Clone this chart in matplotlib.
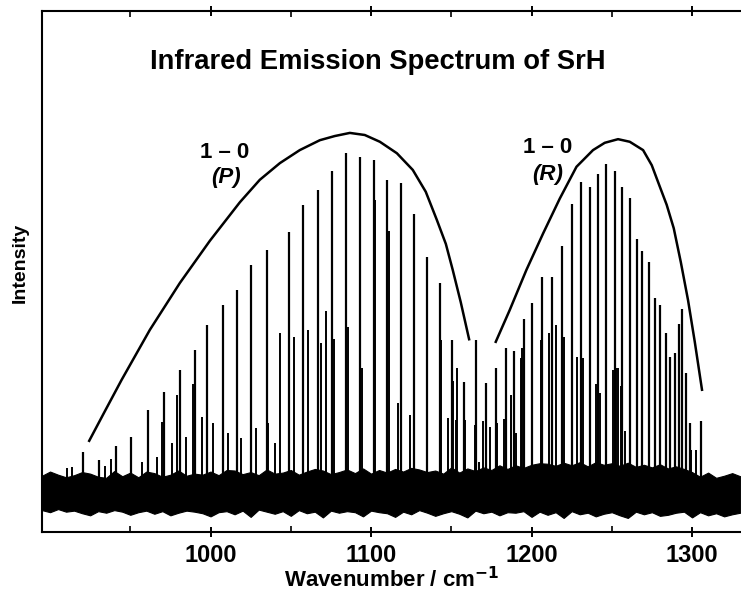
import numpy
from matplotlib import pyplot

pyplot.rcParams["font.family"] = ["Liberation Sans", "DejaVu Sans"]
pyplot.rcParams["font.weight"] = "bold"
pyplot.rcParams["mathtext.default"] = "bf"

# Strong rotational lines (wavenumber / cm-1, intensity a.u.)
strong_wn = [920.3, 930.6, 941.0, 950.2, 960.8, 971.3, 980.9, 990.2, 998.1, 1007.5,
             1016.6, 1025.1, 1034.9, 1048.8, 1057.9, 1066.8, 1075.7, 1084.7, 1093.2,
             1101.9, 1110.0, 1118.7, 1126.8, 1134.7, 1142.8, 1150.3, 1158.0, 1165.7,
             1171.9, 1177.7, 1183.8, 1189.1, 1195.2, 1200.3, 1206.8, 1212.8, 1218.8,
             1224.9, 1230.9, 1236.3, 1241.4, 1246.7, 1251.7, 1256.6, 1261.2, 1265.4,
             1269.1, 1273.2, 1277.2, 1280.3, 1283.6, 1286.5, 1289.2, 1291.9, 1294.0,
             1296.5, 1298.6, 1305.4]
strong_int = [15.4, 13.8, 16.5, 18.2, 23.4, 26.9, 31.1, 34.9, 39.7, 43.6,
              46.4, 51.2, 54.1, 57.6, 62.8, 65.6, 69.2, 72.8, 72.0,
              71.4, 67.6, 67.0, 61.0, 52.8, 47.7, 36.9, 28.8, 36.9,
              28.6, 31.5, 35.4, 34.8, 40.8, 43.9, 49.0, 49.0, 54.9,
              63.0, 67.2, 66.2, 68.7, 70.6, 69.2, 66.3, 64.2, 56.2,
              54.0, 51.9, 45.0, 43.6, 38.2, 33.6, 34.4, 39.9, 42.8,
              30.5, 20.9, 21.3]

# Weaker lines (hot band / overlapping transitions)
weak_wn = [910.3, 913.4, 934.2, 938.3, 957.0, 966.4, 969.5, 975.7, 978.8, 984.6,
           988.8, 994.4, 1001.6, 1010.6, 1018.9, 1028.2, 1035.9, 1040.1, 1043.2,
           1052.1, 1060.8, 1069.1, 1071.8, 1077.0, 1085.7, 1094.2, 1102.5, 1111.1,
           1118.5, 1116.9, 1124.1, 1143.4, 1151.1, 1153.6, 1148.0, 1152.8, 1158.8,
           1164.6, 1167.3, 1169.8, 1174.4, 1178.5, 1182.9, 1187.1, 1190.2, 1193.3,
           1194.1, 1205.6, 1210.6, 1215.5, 1220.1, 1228.4, 1232.1, 1240.4, 1242.9,
           1246.2, 1250.8, 1252.9, 1253.9, 1255.6, 1258.1, 1261.6, 1299.5, 1302.5]
weak_int = [12.3, 12.4, 12.7, 14.0, 13.5, 14.3, 21.2, 17.1, 26.3, 18.3,
            28.4, 22.1, 20.9, 19.0, 18.0, 20.0, 20.9, 17.1, 38.2,
            37.5, 38.8, 36.3, 42.5, 37.1, 39.4, 31.5, 63.7, 57.8,
            40.7, 24.8, 22.5, 36.9, 29.0, 31.4, 21.9, 21.5, 21.5,
            20.5, 13.5, 21.4, 20.2, 20.9, 21.6, 26.3, 19.0, 33.4,
            35.3, 36.9, 38.2, 39.7, 37.5, 33.6, 33.4, 28.5, 26.6,
            25.5, 31.1, 31.5, 31.4, 28.0, 19.3, 14.5, 15.7, 15.7]

# Noise band edges, every 5 cm-1 from 895
noise_hi = [10.8, 11.6, 11.0, 10.5, 10.9, 11.5, 11.2, 10.6, 10.4, 11.7,
            10.7, 11.4, 10.5, 11.6, 11.3, 10.6, 11.0, 11.8, 10.8, 11.2,
            11.0, 11.6, 10.9, 11.9, 11.8, 11.1, 11.5, 10.9, 12.0, 11.2,
            11.4, 11.9, 11.0, 11.6, 12.1, 11.8, 11.1, 11.5, 12.0, 11.3,
            12.2, 11.2, 11.9, 11.4, 12.1, 11.6, 12.3, 12.0, 11.5, 11.8,
            11.2, 12.4, 11.4, 12.2, 11.7, 12.4, 11.9, 12.8, 12.1, 12.8,
            12.3, 12.9, 13.2, 13.1, 12.7, 13.3, 12.8, 13.4, 12.6, 13.4,
            12.9, 13.2, 12.7, 13.3, 12.5, 12.9, 12.4, 13.0, 12.2, 12.6,
            12.1, 11.5, 10.6, 11.4, 10.4, 10.8, 11.3, 10.7]
noise_lo = [4.2, 3.8, 4.4, 3.9, 4.1, 3.6, 3.2, 4.0, 3.7, 4.2,
            3.9, 3.3, 3.8, 4.1, 3.5, 4.0, 3.2, 3.7, 4.1, 3.9,
            3.6, 3.0, 3.8, 4.0, 3.4, 4.1, 2.9, 4.3, 3.9, 3.5,
            4.0, 3.1, 4.2, 3.6, 3.9, 2.8, 4.1, 3.7, 4.0, 3.8,
            3.0, 4.1, 3.8, 3.6, 2.9, 3.9, 3.4, 4.2, 3.7, 3.1,
            3.6, 4.0, 3.5, 2.8, 4.1, 3.6, 3.9, 3.2, 3.8, 3.7,
            4.0, 2.9, 3.9, 3.3, 3.8, 2.7, 4.0, 3.4, 3.7, 3.0,
            3.5, 3.8, 3.2, 2.7, 3.9, 3.4, 3.8, 3.1, 3.3, 3.7,
            3.9, 2.8, 3.8, 3.2, 3.6, 3.0, 3.4, 3.7]
noise_wn = numpy.arange(895, 895 + 5 * len(noise_hi), 5)

# Envelopes drawn over the two branches
p_env_wn = [924.4, 934.2, 944.6, 962.2, 980.9, 999.6, 1018.3, 1030.7, 1043.2,
            1055.6, 1068.1, 1077.4, 1086.8, 1096.1, 1105.5, 1116.1, 1126.0,
            1134.1, 1141.0, 1146.6, 1150.9, 1155.9, 1161.1]
p_env_int = [17.5, 23.2, 29.2, 38.8, 47.8, 55.9, 63.3, 67.6, 70.8,
             73.3, 75.2, 76.0, 76.6, 76.2, 74.9, 72.7, 69.5,
             65.3, 59.9, 55.3, 50.3, 44.1, 37.0]
r_env_wn = [1177.7, 1186.4, 1196.8, 1207.2, 1217.6, 1228.0, 1238.3, 1245.6,
            1253.9, 1261.2, 1269.5, 1274.9, 1279.9, 1284.2, 1288.6, 1293.0,
            1297.5, 1301.7, 1306.2]
r_env_int = [36.5, 42.6, 50.3, 57.3, 64.0, 70.1, 73.3, 74.7,
             75.4, 74.9, 73.3, 70.4, 66.3, 62.8, 58.3, 51.8,
             44.5, 36.5, 27.3]

baseline = 7.5

f = pyplot.figure(figsize=(7.41, 5.92), dpi=100)
ax = f.add_axes([42 / 741, 60 / 592, 699 / 741, 521 / 592])

ax.fill_between(noise_wn, noise_lo, noise_hi, color="black", linewidth=0.8,
                edgecolor="black")
ax.vlines(weak_wn, baseline, weak_int, color="black", linewidth=1.4)
ax.vlines(strong_wn, baseline, strong_int, color="black", linewidth=1.6)
ax.plot(p_env_wn, p_env_int, "k-", linewidth=1.8)
ax.plot(r_env_wn, r_env_int, "k-", linewidth=1.8)

ax.text(1104.2, 88.9, "Infrared Emission Spectrum of SrH", ha="center",
        va="baseline", fontsize=19.7, fontweight="bold")
ax.text(1008.9, 71.8, "1 \u2013 0", ha="center", va="baseline", fontsize=16,
        fontweight="bold")
ax.text(1009.5, 67.0, "(P)", ha="center", va="baseline", fontsize=16,
        fontweight="bold", style="italic")
ax.text(1209.9, 72.7, "1 \u2013 0", ha="center", va="baseline", fontsize=16,
        fontweight="bold")
ax.text(1210.1, 67.6, "(R)", ha="center", va="baseline", fontsize=16,
        fontweight="bold", style="italic")

ax.axis(xmin=895, xmax=1330.5, ymin=0, ymax=100)
ax.set_xticks([1000, 1100, 1200, 1300])
ax.set_xticks([950, 1050, 1150, 1250], minor=True)
ax.set_yticks([])
ax.tick_params(axis="x", which="major", direction="inout", length=7, width=1.4,
               top=True, labelsize=17, pad=5)
ax.tick_params(axis="x", which="minor", direction="in", length=4, width=1.2, top=True)
for label in ax.get_xticklabels():
    label.set_fontweight("bold")
for side in ["left", "bottom", "top"]:
    ax.spines[side].set_linewidth(1.5)
ax.spines["right"].set_visible(False)

ax.set_xlabel("Wavenumber / cm$^{-1}$", fontsize=16, fontweight="bold", labelpad=0)
ax.set_ylabel("Intensity", fontsize=14, fontweight="bold")
ax.yaxis.set_label_coords(-0.019, 0.517)

pyplot.savefig("out.png", dpi=100)
